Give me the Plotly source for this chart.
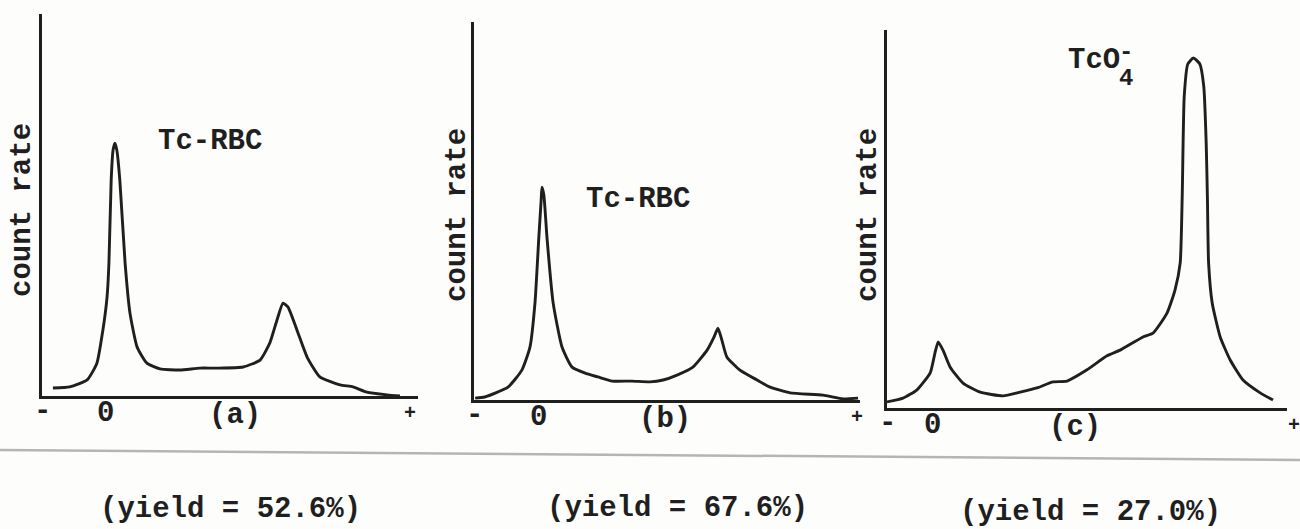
import plotly.graph_objects as go

W, H = 1300, 529

# ---- data (x: % of strip length, y: % of full-scale count rate)
a_x = [2.9, 7.4, 12.0, 14.6, 16.2, 17.3, 17.8, 18.4, 18.9, 19.4, 19.9, 20.7, 22.1, 23.4, 25.3,
       27.9, 31.4, 36.7, 42.0, 46.5, 53.5, 58.0, 60.6, 62.5, 64.1, 65.4, 67.8, 70.5, 73.9,
       79.3, 82.7, 86.4, 91.8, 95.2]
a_y = [2.1, 2.4, 4.2, 8.6, 17.3, 25.9, 34.8, 56.5, 64.4, 66.2, 64.4, 56.5, 34.8, 21.7, 12.8,
       8.6, 7.1, 6.8, 7.3, 7.3, 7.6, 9.4, 13.9, 19.9, 24.3, 23.3, 17.3, 10.2, 5.0,
       2.9, 2.4, 1.0, 0.3, 0.0]

b_x = [0.3, 2.8, 8.8, 12.4, 14.5, 15.8, 16.8, 17.4, 17.6, 18.1, 18.9, 20.5, 22.8, 25.4, 28.8,
       32.1, 35.8, 40.9, 45.6, 49.0, 52.6, 56.7, 60.4, 62.2, 63.2, 64.2, 65.5, 68.9, 73.3,
       76.7, 81.9, 90.4, 95.6, 99.5]
b_y = [0.5, 0.8, 3.4, 7.9, 14.0, 25.7, 43.1, 52.9, 56.3, 54.2, 43.1, 25.7, 14.0, 8.7, 7.1,
       6.1, 5.0, 5.0, 4.8, 5.3, 6.6, 8.7, 13.2, 16.7, 19.0, 15.9, 11.4, 7.9, 5.3,
       3.4, 1.9, 1.3, 0.3, 0.5]

c_x = [0.0, 4.0, 7.5, 10.8, 12.0, 12.8, 14.0, 15.8, 19.0, 23.3, 29.0, 33.3, 37.5, 41.5, 45.0,
       50.0, 55.0, 58.3, 64.0, 66.5, 70.0, 72.0, 73.3, 73.8, 74.3, 75.2, 76.6, 78.2, 79.2,
       79.8, 80.1, 80.4, 81.3, 83.3, 85.8, 89.0, 93.3, 96.5]
c_y = [1.6, 2.6, 4.8, 9.3, 14.6, 17.5, 15.3, 10.8, 6.6, 4.2, 3.2, 4.2, 5.3, 6.9, 7.1,
       10.1, 13.8, 15.3, 18.8, 19.8, 25.1, 31.2, 38.4, 55.8, 82.3, 91.0, 92.6, 91.0, 85.0,
       70.0, 55.8, 38.4, 27.8, 18.8, 12.7, 7.4, 4.0, 2.1]

panel_tags = ["(a)", "(b)", "(c)"]
species = ["Tc-RBC", "Tc-RBC", "TcO4-"]
yields = ["(yield = 52.6%)", "(yield = 67.6%)", "(yield = 27.0%)"]
origin_x = [16.8, 16.6, 11.3]      # position of the "0" (origin) on each strip
tag_x = [51.3, 49.5, 47.0]

# ---- layout geometry (pixels)
boxes = [  # x0, x1, ytop, ybottom
    (42, 418, 14, 396),
    (474, 860, 22, 400),
    (887, 1287, 30, 408),
]
plus_px = [410, 857, 1294]

FONT = "Liberation Mono, Courier New, monospace"
INK = "#1f1f1f"
FS = 29

def B(s):
    return "<b>" + s + "</b>"

fig = go.Figure()
series = [(a_x, a_y), (b_x, b_y), (c_x, c_y)]
layout = dict(
    width=W, height=H, margin=dict(l=0, r=0, t=0, b=0),
    paper_bgcolor="#fdfdfc", plot_bgcolor="rgba(0,0,0,0)",
    showlegend=False, font=dict(family=FONT, color=INK, size=FS),
)
annotations = []

def px(x):
    return x / W

def py(y):
    return 1 - y / H

for i, ((xs, ys), (x0, x1, yt, yb)) in enumerate(zip(series, boxes)):
    n = "" if i == 0 else str(i + 1)
    fig.add_trace(go.Scatter(
        x=xs, y=ys, mode="lines", xaxis="x" + n, yaxis="y" + n,
        line=dict(color=INK, width=2.9, shape="spline", smoothing=0.5),
        hoverinfo="skip",
    ))
    axcommon = dict(showgrid=False, zeroline=False, showticklabels=False, ticks="",
                    showline=True, linecolor=INK, linewidth=2.6, fixedrange=True)
    layout["xaxis" + n] = dict(domain=[px(x0), px(x1)], range=[0, 100],
                               anchor="y" + n, **axcommon)
    layout["yaxis" + n] = dict(domain=[py(yb), py(yt)], range=[0, 100],
                               anchor="x" + n, **axcommon)

    ytick = yb + 17
    xr = "x" + n
    annotations += [
        dict(x=0, y=py(ytick - 2), xref=xr, yref="paper", text=B("-"), showarrow=False,
             xanchor="center", yanchor="middle"),
        dict(x=origin_x[i], y=py(ytick), xref=xr, yref="paper", text=B("0"), showarrow=False,
             xanchor="center", yanchor="middle"),
        dict(x=tag_x[i], y=py(ytick + 2), xref=xr, yref="paper", text=B(panel_tags[i]),
             showarrow=False, xanchor="center", yanchor="middle"),
        dict(x=px(plus_px[i]), y=py(ytick), xref="paper", yref="paper",
             text=B("+"), showarrow=False, xanchor="center", yanchor="middle",
             font=dict(size=20)),
    ]

# y-axis titles
for cx, cy in [(22, 210), (457, 215), (868, 215)]:
    annotations.append(dict(x=px(cx), y=py(cy), xref="paper", yref="paper", text=B("count rate"),
                            textangle=-90, showarrow=False, xanchor="center", yanchor="middle"))

# species labels
annotations.append(dict(x=px(210), y=py(141), xref="paper", yref="paper", text=B(species[0]),
                        showarrow=False, xanchor="center", yanchor="middle"))
annotations.append(dict(x=px(638), y=py(199), xref="paper", yref="paper", text=B(species[1]),
                        showarrow=False, xanchor="center", yanchor="middle"))
annotations.append(dict(x=px(1094), y=py(61), xref="paper", yref="paper", text=B("TcO"),
                        showarrow=False, xanchor="center", yanchor="middle"))
annotations.append(dict(x=px(1126), y=py(79), xref="paper", yref="paper", text=B("4"),
                        showarrow=False, xanchor="center", yanchor="middle", font=dict(size=24)))
annotations.append(dict(x=px(1126), y=py(53), xref="paper", yref="paper", text=B("-"),
                        showarrow=False, xanchor="center", yanchor="middle", font=dict(size=24)))

# yields
for cx, cy, t in zip([230, 677, 1090], [509, 508, 512], yields):
    annotations.append(dict(x=px(cx), y=py(cy), xref="paper", yref="paper", text=B(t),
                            showarrow=False, xanchor="center", yanchor="middle"))

layout["annotations"] = annotations
layout["shapes"] = [dict(type="line", xref="paper", yref="paper", x0=0, x1=1,
                         y0=py(450), y1=py(460), line=dict(color="#b5b5b5", width=2.5))]

fig.update_layout(**layout)
fig.write_html("out.html", config={"displayModeBar": False},
               post_script="document.body.style.margin='0px';document.body.style.overflow='hidden';")
